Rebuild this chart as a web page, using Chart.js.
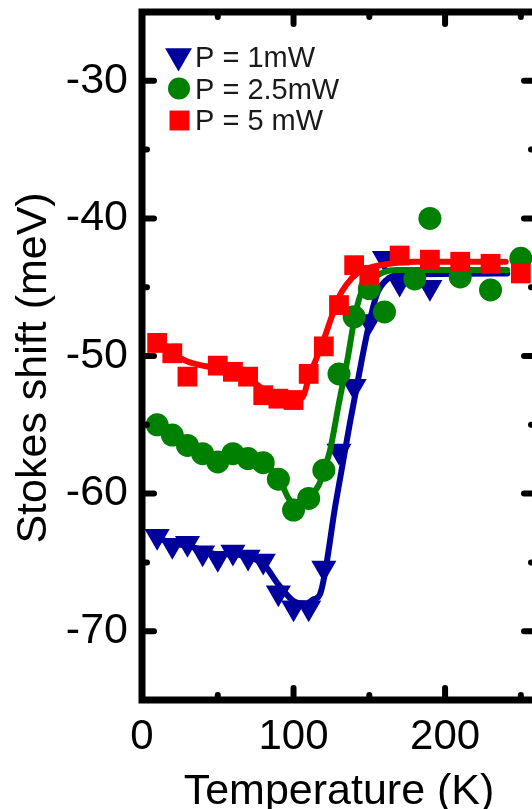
<!DOCTYPE html>
<html><head><meta charset="utf-8">
<script src="https://cdn.jsdelivr.net/npm/chart.js@4.4.1/dist/chart.umd.min.js"></script>
<style>html,body{margin:0;padding:0;overflow:hidden;background:#fff}</style>
</head><body>
<canvas id="c" width="546" height="809"></canvas>
<script>
// ---- data ----
const labels = ['P = 1mW', 'P = 2.5mW', 'P = 5 mW'];
const T1 = [10,20,30,40,50,60,70,80,90,100,110,120,130,140,150,160,170,190];
const S1 = [-63.1,-63.75,-63.6,-64.3,-64.7,-64.25,-64.6,-64.9,-67.2,-68.3,-68.3,-65.4,-56.9,-52.2,-47.5,-42.9,-44.7,-45.0];
const T2 = [10,20,30,40,50,60,70,80,90,100,110,120,130,140,150,160,180,190,210,230,250];
const S2 = [-55.0,-55.75,-56.5,-57.1,-57.7,-57.1,-57.45,-57.75,-58.95,-61.2,-60.35,-58.3,-51.3,-47.15,-45.1,-46.8,-44.4,-40.0,-44.25,-45.2,-42.9];
const T3 = [10,20,30,50,60,70,80,90,100,110,120,130,140,150,170,190,210,230,250];
const S3 = [-49.05,-49.8,-51.5,-50.7,-51.15,-51.5,-52.85,-53.1,-53.2,-51.3,-49.3,-46.3,-43.4,-44.1,-42.7,-43.0,-43.15,-43.3,-44.0];
// fitted curves (traced)
const fitT1 = [10,20,30,40,50,60,70,80,90,100,108,113,117.5,128,137,145,150,155,161,170,241];
const fitS1 = [-63.2,-63.6,-63.8,-64.1,-64.4,-64.4,-64.6,-65.1,-66.6,-67.8,-68.0,-67.7,-67.3,-60.6,-55.0,-50.3,-47.6,-45.5,-44.5,-44.1,-44.0];
const fitT2 = [10,20,30,40,50,60,70,80,90,97,102,110,117,120,124,130,136,140,144,152,168,241];
const fitS2 = [-55.0,-55.75,-56.4,-57.0,-57.4,-57.3,-57.5,-57.8,-58.8,-60.4,-60.8,-60.3,-59.3,-58.3,-56.9,-53.4,-50.0,-47.4,-45.6,-44.4,-43.75,-43.75];
const fitT3 = [10,20,30,40,50,60,70,80,90,100,106,110,115,120,125,130,135,142,150,157,180,240];
const fitS3 = [-49.05,-49.8,-50.4,-50.7,-50.9,-51.2,-51.6,-52.4,-52.9,-53.1,-53.0,-51.6,-50.2,-48.8,-47.2,-45.7,-44.8,-44.0,-43.6,-43.4,-43.15,-43.15];
// axes
const xMajorTicks = [0,100,200];
const xMinorTicks = [50,150,250];
const yMajorTicks = [-70,-60,-50,-40,-30];
const yMinorTicks = [-65,-55,-45,-35];
const xTitle = 'Temperature (K)';
const yTitle = 'Stokes shift (meV)';

const BLUE = '#00009C', GREEN = '#008000', RED = '#FF0000';
const pts = (xs, ys) => xs.map((v, i) => ({x: v, y: ys[i]}));
Chart.defaults.font.family = "'Liberation Sans', Arial, sans-serif";
Chart.defaults.color = '#000';

const markers = [
  {pointStyle: 'triangle', rotation: 180, radius: 14.5, color: BLUE},
  {pointStyle: 'circle', rotation: 0, radius: 11.5, color: GREEN},
  {pointStyle: 'rect', rotation: 0, radius: 14, color: RED}
];

function scatterSet(i, xs, ys, order) {
  const m = markers[i];
  return {label: labels[i], data: pts(xs, ys), showLine: false, pointStyle: m.pointStyle,
    rotation: m.rotation, pointRadius: m.radius, pointHoverRadius: m.radius,
    backgroundColor: m.color, borderColor: m.color, pointBorderWidth: 0, order};
}
function fitSet(i, xs, ys, order) {
  const m = markers[i];
  return {label: labels[i] + ' fit', data: pts(xs, ys), showLine: true, pointRadius: 0,
    borderColor: m.color, borderWidth: 6, cubicInterpolationMode: 'monotone',
    borderCapStyle: 'round', borderJoinStyle: 'round', fill: false, order};
}
function noPad(s) { s.paddingTop = 0; s.paddingBottom = 0; s.paddingLeft = 0; s.paddingRight = 0; }

const framePlugin = {
  id: 'frame',
  afterDatasetsDraw(chart) {
    const {ctx, chartArea: a, scales: {x, y}} = chart;
    ctx.save();
    ctx.strokeStyle = '#000';
    ctx.lineCap = 'round';
    ctx.lineWidth = 6;
    const line = (x1, y1, x2, y2) => { ctx.beginPath(); ctx.moveTo(x1, y1); ctx.lineTo(x2, y2); ctx.stroke(); };
    const MAJ = 12, MIN = 5;
    xMajorTicks.forEach(v => { const p = x.getPixelForValue(v); line(p, a.bottom, p, a.bottom - MAJ); line(p, a.top, p, a.top + MAJ); });
    xMinorTicks.forEach(v => { const p = x.getPixelForValue(v); line(p, a.bottom, p, a.bottom - MIN); line(p, a.top, p, a.top + MIN); });
    yMajorTicks.forEach(v => { const p = y.getPixelForValue(v); line(a.left, p, a.left + MAJ, p); line(a.right, p, a.right - MAJ, p); });
    yMinorTicks.forEach(v => { const p = y.getPixelForValue(v); line(a.left, p, a.left + MIN, p); line(a.right, p, a.right - MIN, p); });
    ctx.lineCap = 'butt';
    ctx.lineJoin = 'miter';
    ctx.lineWidth = 7;
    ctx.strokeRect(a.left, a.top, a.right - a.left, a.bottom - a.top);

    // legend inside the plot
    const rows = [
      {mx: 178.5, my: 56, ty: 67},
      {mx: 179, my: 88.5, ty: 99},
      {mx: 179.5, my: 120.5, ty: 130}
    ];
    ctx.font = "29px 'Liberation Sans', Arial, sans-serif";
    ctx.textAlign = 'left';
    ctx.textBaseline = 'alphabetic';
    rows.forEach((r, i) => {
      const m = markers[i];
      ctx.fillStyle = m.color;
      const rad = i === 0 ? 15.5 : (i === 1 ? 11 : 14.1);
      Chart.helpers.drawPoint(ctx, {pointStyle: m.pointStyle, rotation: m.rotation, radius: rad, borderWidth: 0}, r.mx, r.my);
      ctx.fillStyle = '#1a1a1a';
      ctx.fillText(labels[i], 195, r.ty);
    });
    ctx.restore();
  }
};

new Chart(document.getElementById('c'), {
  type: 'scatter',
  data: {
    datasets: [
      scatterSet(0, T1, S1, 6), fitSet(0, fitT1, fitS1, 5),
      scatterSet(1, T2, S2, 4), fitSet(1, fitT2, fitS2, 3),
      scatterSet(2, T3, S3, 2), fitSet(2, fitT3, fitS3, 1)
    ]
  },
  options: {
    responsive: false,
    animation: false,
    events: [],
    layout: {autoPadding: false, padding: {top: 12, right: 10, left: 0, bottom: 0}},
    plugins: {legend: {display: false}, tooltip: {enabled: false}},
    scales: {
      x: {
        type: 'linear', position: 'bottom', min: 0, max: 260,
        grid: {display: false, drawTicks: false}, border: {display: false},
        afterBuildTicks: s => { s.ticks = xMajorTicks.map(v => ({value: v})); },
        afterFit: s => { s.height = 109; noPad(s); },
        ticks: {font: {size: 42}, color: '#000', padding: 12, maxRotation: 0, autoSkip: false},
        title: {display: true, text: xTitle, color: '#000', font: {size: 43, lineHeight: 0.8}, padding: {top: 0, bottom: 0}}
      },
      y: {
        type: 'linear', position: 'left', min: -75, max: -25,
        grid: {display: false, drawTicks: false}, border: {display: false},
        afterBuildTicks: s => { s.ticks = yMajorTicks.map(v => ({value: v})); },
        afterFit: s => { s.width = 142; noPad(s); },
        ticks: {font: {size: 43}, color: '#000', padding: 14, autoSkip: false},
        title: {display: true, text: yTitle + '  ', color: '#000', font: {size: 43, lineHeight: 0.8}, padding: {top: 17, bottom: 0}}
      }
    }
  },
  plugins: [framePlugin]
});
</script>
</body></html>
